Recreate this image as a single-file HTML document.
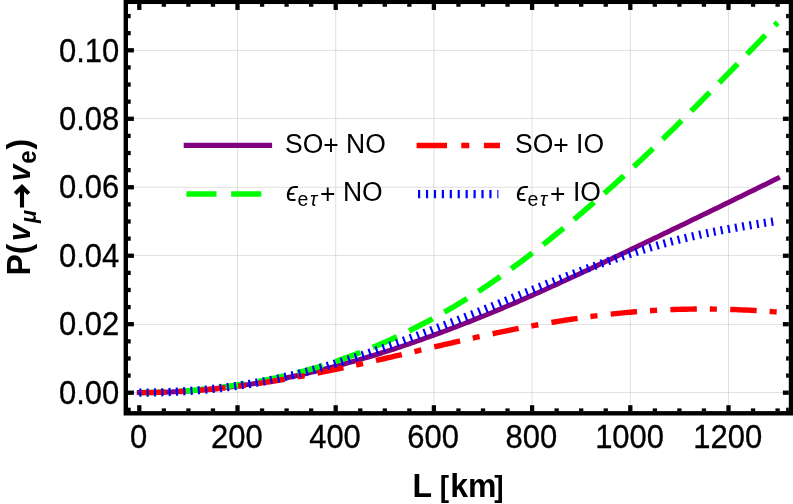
<!DOCTYPE html>
<html><head><meta charset="utf-8"><title>plot</title>
<style>
html,body{margin:0;padding:0;background:#fff;}
svg{display:block;will-change:transform;}
text{font-family:"Liberation Sans",sans-serif;fill:#000;}
</style></head><body>
<svg width="793" height="504" viewBox="0 0 793 504">
<rect x="0" y="0" width="793" height="504" fill="#fff"/>
<g stroke="#cccccc" stroke-width="0.62" fill="none"><line x1="237.50" y1="1.85" x2="237.50" y2="413.3"/><line x1="335.70" y1="1.85" x2="335.70" y2="413.3"/><line x1="433.90" y1="1.85" x2="433.90" y2="413.3"/><line x1="532.10" y1="1.85" x2="532.10" y2="413.3"/><line x1="630.30" y1="1.85" x2="630.30" y2="413.3"/><line x1="728.50" y1="1.85" x2="728.50" y2="413.3"/><line x1="125.8" y1="50.4" x2="791.0" y2="50.4"/><line x1="125.8" y1="118.5" x2="791.0" y2="118.5"/><line x1="125.8" y1="187.3" x2="791.0" y2="187.3"/><line x1="125.8" y1="255.5" x2="791.0" y2="255.5"/><line x1="125.8" y1="324.4" x2="791.0" y2="324.4"/><line x1="125.8" y1="392.5" x2="791.0" y2="392.5"/></g>
<path d="M139.30 392.60 L141.76 392.60 L144.21 392.58 L146.67 392.57 L149.12 392.54 L151.58 392.50 L154.03 392.46 L156.49 392.41 L158.94 392.35 L161.40 392.29 L163.85 392.21 L166.31 392.13 L168.76 392.04 L171.22 391.94 L173.67 391.83 L176.12 391.71 L178.58 391.59 L181.03 391.45 L183.49 391.31 L185.94 391.16 L188.40 391.00 L190.86 390.83 L193.31 390.65 L195.76 390.47 L198.22 390.27 L200.68 390.07 L203.13 389.85 L205.59 389.63 L208.04 389.40 L210.50 389.16 L212.95 388.92 L215.41 388.66 L217.86 388.40 L220.31 388.13 L222.77 387.85 L225.22 387.56 L227.68 387.26 L230.13 386.96 L232.59 386.65 L235.05 386.33 L237.50 386.00 L239.95 385.66 L242.41 385.32 L244.87 384.97 L247.32 384.61 L249.77 384.25 L252.23 383.87 L254.69 383.49 L257.14 383.10 L259.60 382.70 L262.05 382.29 L264.50 381.88 L266.96 381.45 L269.41 381.02 L271.87 380.58 L274.32 380.13 L276.78 379.67 L279.24 379.20 L281.69 378.73 L284.14 378.24 L286.60 377.75 L289.05 377.25 L291.51 376.74 L293.96 376.22 L296.42 375.69 L298.88 375.15 L301.33 374.61 L303.78 374.06 L306.24 373.50 L308.69 372.93 L311.15 372.35 L313.61 371.77 L316.06 371.18 L318.51 370.58 L320.97 369.97 L323.42 369.36 L325.88 368.74 L328.33 368.12 L330.79 367.48 L333.25 366.85 L335.70 366.20 L338.15 365.55 L340.61 364.89 L343.06 364.23 L345.52 363.56 L347.97 362.88 L350.43 362.20 L352.88 361.51 L355.34 360.81 L357.79 360.11 L360.25 359.40 L362.70 358.69 L365.16 357.97 L367.62 357.24 L370.07 356.50 L372.52 355.76 L374.98 355.01 L377.43 354.26 L379.89 353.50 L382.34 352.73 L384.80 351.95 L387.25 351.17 L389.71 350.38 L392.16 349.58 L394.62 348.78 L397.07 347.97 L399.53 347.15 L401.98 346.33 L404.44 345.50 L406.89 344.66 L409.35 343.82 L411.80 342.97 L414.26 342.12 L416.71 341.26 L419.17 340.40 L421.62 339.53 L424.08 338.65 L426.53 337.77 L428.99 336.89 L431.44 336.00 L433.90 335.10 L436.35 334.20 L438.81 333.30 L441.26 332.39 L443.72 331.47 L446.17 330.55 L448.63 329.63 L451.08 328.70 L453.54 327.77 L455.99 326.83 L458.45 325.89 L460.90 324.94 L463.36 323.99 L465.81 323.03 L468.27 322.07 L470.72 321.10 L473.18 320.13 L475.63 319.16 L478.09 318.18 L480.54 317.19 L483.00 316.20 L485.45 315.20 L487.91 314.20 L490.36 313.20 L492.82 312.19 L495.27 311.17 L497.73 310.15 L500.18 309.13 L502.64 308.10 L505.09 307.07 L507.55 306.03 L510.00 304.99 L512.46 303.94 L514.91 302.89 L517.37 301.83 L519.82 300.77 L522.28 299.71 L524.73 298.64 L527.19 297.56 L529.64 296.48 L532.10 295.40 L534.55 294.31 L537.01 293.22 L539.46 292.13 L541.92 291.03 L544.38 289.92 L546.83 288.82 L549.28 287.70 L551.74 286.59 L554.19 285.47 L556.65 284.35 L559.11 283.23 L561.56 282.10 L564.01 280.97 L566.47 279.84 L568.92 278.71 L571.38 277.57 L573.83 276.43 L576.29 275.29 L578.74 274.15 L581.20 273.00 L583.65 271.85 L586.11 270.70 L588.56 269.55 L591.02 268.40 L593.47 267.25 L595.93 266.09 L598.38 264.94 L600.84 263.78 L603.29 262.62 L605.75 261.46 L608.20 260.30 L610.66 259.14 L613.12 257.97 L615.57 256.81 L618.02 255.64 L620.48 254.48 L622.93 253.31 L625.39 252.14 L627.84 250.97 L630.30 249.80 L632.75 248.63 L635.21 247.46 L637.66 246.29 L640.12 245.11 L642.57 243.94 L645.03 242.77 L647.48 241.59 L649.94 240.42 L652.39 239.24 L654.85 238.06 L657.30 236.89 L659.76 235.71 L662.21 234.53 L664.67 233.35 L667.12 232.17 L669.58 230.99 L672.03 229.80 L674.49 228.62 L676.94 227.44 L679.40 226.25 L681.86 225.06 L684.31 223.88 L686.76 222.69 L689.22 221.50 L691.67 220.31 L694.13 219.12 L696.59 217.93 L699.04 216.74 L701.49 215.55 L703.95 214.36 L706.40 213.16 L708.86 211.97 L711.31 210.77 L713.77 209.58 L716.22 208.38 L718.68 207.19 L721.13 205.99 L723.59 204.79 L726.04 203.60 L728.50 202.40 L730.95 201.20 L733.41 200.00 L735.87 198.80 L738.32 197.61 L740.77 196.41 L743.23 195.21 L745.68 194.01 L748.14 192.81 L750.60 191.61 L753.05 190.41 L755.50 189.21 L757.96 188.01 L760.41 186.80 L762.87 185.60 L765.32 184.40 L767.78 183.20 L770.23 182.00 L772.69 180.80 L775.14 179.60 L777.60 178.40" fill="none" stroke="#800080" stroke-width="5.0" stroke-linejoin="round" stroke-linecap="square"/>
<path d="M139.30 392.60 L141.76 392.60 L144.21 392.58 L146.67 392.56 L149.12 392.52 L151.58 392.48 L154.03 392.43 L156.49 392.37 L158.94 392.30 L161.40 392.22 L163.85 392.13 L166.31 392.03 L168.76 391.92 L171.22 391.80 L173.67 391.67 L176.12 391.53 L178.58 391.39 L181.03 391.23 L183.49 391.06 L185.94 390.89 L188.40 390.70 L190.86 390.50 L193.31 390.30 L195.76 390.09 L198.22 389.86 L200.68 389.63 L203.13 389.39 L205.59 389.13 L208.04 388.87 L210.50 388.60 L212.95 388.32 L215.41 388.03 L217.86 387.73 L220.31 387.42 L222.77 387.10 L225.22 386.78 L227.68 386.44 L230.13 386.09 L232.59 385.74 L235.05 385.37 L237.50 385.00 L239.95 384.62 L242.41 384.22 L244.87 383.82 L247.32 383.41 L249.77 382.99 L252.23 382.56 L254.69 382.12 L257.14 381.67 L259.60 381.21 L262.05 380.74 L264.50 380.26 L266.96 379.77 L269.41 379.27 L271.87 378.75 L274.32 378.23 L276.78 377.70 L279.24 377.15 L281.69 376.60 L284.14 376.03 L286.60 375.45 L289.05 374.86 L291.51 374.26 L293.96 373.65 L296.42 373.02 L298.88 372.39 L301.33 371.74 L303.78 371.08 L306.24 370.41 L308.69 369.73 L311.15 369.03 L313.61 368.32 L316.06 367.60 L318.51 366.87 L320.97 366.13 L323.42 365.37 L325.88 364.60 L328.33 363.82 L330.79 363.03 L333.25 362.22 L335.70 361.40 L338.15 360.57 L340.61 359.72 L343.06 358.86 L345.52 357.99 L347.97 357.11 L350.43 356.21 L352.88 355.30 L355.34 354.38 L357.79 353.44 L360.25 352.50 L362.70 351.53 L365.16 350.56 L367.62 349.57 L370.07 348.57 L372.52 347.56 L374.98 346.53 L377.43 345.49 L379.89 344.44 L382.34 343.38 L384.80 342.30 L387.25 341.21 L389.71 340.11 L392.16 338.99 L394.62 337.86 L397.07 336.72 L399.53 335.56 L401.98 334.39 L404.44 333.21 L406.89 332.01 L409.35 330.81 L411.80 329.58 L414.26 328.35 L416.71 327.10 L419.17 325.84 L421.62 324.57 L424.08 323.28 L426.53 321.98 L428.99 320.67 L431.44 319.34 L433.90 318.00 L436.35 316.65 L438.81 315.28 L441.26 313.90 L443.72 312.51 L446.17 311.10 L448.63 309.68 L451.08 308.25 L453.54 306.80 L455.99 305.34 L458.45 303.87 L460.90 302.38 L463.36 300.87 L465.81 299.36 L468.27 297.83 L470.72 296.28 L473.18 294.73 L475.63 293.15 L478.09 291.57 L480.54 289.97 L483.00 288.35 L485.45 286.72 L487.91 285.08 L490.36 283.42 L492.82 281.75 L495.27 280.06 L497.73 278.36 L500.18 276.65 L502.64 274.92 L505.09 273.18 L507.55 271.43 L510.00 269.66 L512.46 267.88 L514.91 266.09 L517.37 264.29 L519.82 262.47 L522.28 260.64 L524.73 258.80 L527.19 256.94 L529.64 255.08 L532.10 253.20 L534.55 251.31 L537.01 249.41 L539.46 247.50 L541.92 245.57 L544.38 243.64 L546.83 241.69 L549.28 239.74 L551.74 237.77 L554.19 235.79 L556.65 233.80 L559.11 231.81 L561.56 229.80 L564.01 227.78 L566.47 225.75 L568.92 223.72 L571.38 221.67 L573.83 219.62 L576.29 217.55 L578.74 215.48 L581.20 213.40 L583.65 211.31 L586.11 209.21 L588.56 207.10 L591.02 204.99 L593.47 202.86 L595.93 200.73 L598.38 198.59 L600.84 196.44 L603.29 194.28 L605.75 192.11 L608.20 189.93 L610.66 187.74 L613.12 185.55 L615.57 183.34 L618.02 181.12 L620.48 178.90 L622.93 176.66 L625.39 174.42 L627.84 172.16 L630.30 169.90 L632.75 167.63 L635.21 165.34 L637.66 163.05 L640.12 160.75 L642.57 158.43 L645.03 156.11 L647.48 153.78 L649.94 151.45 L652.39 149.10 L654.85 146.75 L657.30 144.38 L659.76 142.01 L662.21 139.64 L664.67 137.25 L667.12 134.86 L669.58 132.46 L672.03 130.06 L674.49 127.64 L676.94 125.22 L679.40 122.80 L681.86 120.37 L684.31 117.93 L686.76 115.49 L689.22 113.04 L691.67 110.59 L694.13 108.13 L696.59 105.67 L699.04 103.20 L701.49 100.73 L703.95 98.25 L706.40 95.77 L708.86 93.28 L711.31 90.79 L713.77 88.29 L716.22 85.80 L718.68 83.29 L721.13 80.79 L723.59 78.28 L726.04 75.77 L728.50 73.25 L730.95 70.73 L733.41 68.21 L735.87 65.69 L738.32 63.16 L740.77 60.63 L743.23 58.10 L745.68 55.56 L748.14 53.03 L750.60 50.49 L753.05 47.95 L755.50 45.41 L757.96 42.87 L760.41 40.32 L762.87 37.78 L765.32 35.24 L767.78 32.69 L770.23 30.14 L772.69 27.60 L775.14 25.05 L777.60 22.50" fill="none" stroke="#00ff00" stroke-width="5.6" stroke-linejoin="round" stroke-linecap="butt" stroke-dasharray="26.45 13.45"/>
<path d="M139.30 392.60 L141.76 392.60 L144.21 392.58 L146.67 392.56 L149.12 392.54 L151.58 392.50 L154.03 392.46 L156.49 392.40 L158.94 392.34 L161.40 392.27 L163.85 392.20 L166.31 392.11 L168.76 392.02 L171.22 391.92 L173.67 391.81 L176.12 391.70 L178.58 391.57 L181.03 391.44 L183.49 391.30 L185.94 391.16 L188.40 391.00 L190.86 390.84 L193.31 390.67 L195.76 390.49 L198.22 390.30 L200.68 390.10 L203.13 389.90 L205.59 389.69 L208.04 389.48 L210.50 389.25 L212.95 389.02 L215.41 388.78 L217.86 388.53 L220.31 388.28 L222.77 388.02 L225.22 387.75 L227.68 387.47 L230.13 387.19 L232.59 386.90 L235.05 386.60 L237.50 386.30 L239.95 385.99 L242.41 385.67 L244.87 385.35 L247.32 385.02 L249.77 384.68 L252.23 384.34 L254.69 383.99 L257.14 383.63 L259.60 383.27 L262.05 382.90 L264.50 382.53 L266.96 382.15 L269.41 381.76 L271.87 381.37 L274.32 380.97 L276.78 380.57 L279.24 380.16 L281.69 379.75 L284.14 379.33 L286.60 378.90 L289.05 378.47 L291.51 378.03 L293.96 377.59 L296.42 377.15 L298.88 376.70 L301.33 376.24 L303.78 375.78 L306.24 375.31 L308.69 374.84 L311.15 374.37 L313.61 373.89 L316.06 373.41 L318.51 372.92 L320.97 372.43 L323.42 371.93 L325.88 371.44 L328.33 370.93 L330.79 370.43 L333.25 369.91 L335.70 369.40 L338.15 368.88 L340.61 368.36 L343.06 367.84 L345.52 367.31 L347.97 366.78 L350.43 366.24 L352.88 365.71 L355.34 365.17 L357.79 364.62 L360.25 364.08 L362.70 363.53 L365.16 362.98 L367.62 362.43 L370.07 361.87 L372.52 361.32 L374.98 360.76 L377.43 360.19 L379.89 359.63 L382.34 359.07 L384.80 358.50 L387.25 357.93 L389.71 357.36 L392.16 356.79 L394.62 356.22 L397.07 355.65 L399.53 355.07 L401.98 354.50 L404.44 353.92 L406.89 353.34 L409.35 352.77 L411.80 352.19 L414.26 351.61 L416.71 351.03 L419.17 350.46 L421.62 349.88 L424.08 349.30 L426.53 348.73 L428.99 348.15 L431.44 347.57 L433.90 347.00 L436.35 346.43 L438.81 345.85 L441.26 345.28 L443.72 344.71 L446.17 344.14 L448.63 343.58 L451.08 343.01 L453.54 342.45 L455.99 341.89 L458.45 341.33 L460.90 340.77 L463.36 340.21 L465.81 339.66 L468.27 339.11 L470.72 338.56 L473.18 338.01 L475.63 337.47 L478.09 336.92 L480.54 336.39 L483.00 335.85 L485.45 335.32 L487.91 334.79 L490.36 334.26 L492.82 333.74 L495.27 333.22 L497.73 332.70 L500.18 332.19 L502.64 331.68 L505.09 331.18 L507.55 330.68 L510.00 330.18 L512.46 329.69 L514.91 329.20 L517.37 328.71 L519.82 328.23 L522.28 327.76 L524.73 327.29 L527.19 326.82 L529.64 326.36 L532.10 325.90 L534.55 325.45 L537.01 325.00 L539.46 324.56 L541.92 324.12 L544.38 323.69 L546.83 323.26 L549.28 322.84 L551.74 322.42 L554.19 322.01 L556.65 321.60 L559.11 321.20 L561.56 320.81 L564.01 320.42 L566.47 320.03 L568.92 319.66 L571.38 319.28 L573.83 318.92 L576.29 318.55 L578.74 318.20 L581.20 317.85 L583.65 317.51 L586.11 317.17 L588.56 316.84 L591.02 316.51 L593.47 316.19 L595.93 315.88 L598.38 315.58 L600.84 315.28 L603.29 314.98 L605.75 314.70 L608.20 314.42 L610.66 314.14 L613.12 313.88 L615.57 313.62 L618.02 313.36 L620.48 313.12 L622.93 312.88 L625.39 312.64 L627.84 312.42 L630.30 312.20 L632.75 311.99 L635.21 311.78 L637.66 311.59 L640.12 311.40 L642.57 311.21 L645.03 311.04 L647.48 310.87 L649.94 310.71 L652.39 310.56 L654.85 310.41 L657.30 310.27 L659.76 310.14 L662.21 310.01 L664.67 309.90 L667.12 309.79 L669.58 309.68 L672.03 309.59 L674.49 309.50 L676.94 309.42 L679.40 309.35 L681.86 309.28 L684.31 309.23 L686.76 309.18 L689.22 309.13 L691.67 309.10 L694.13 309.07 L696.59 309.05 L699.04 309.04 L701.49 309.03 L703.95 309.03 L706.40 309.04 L708.86 309.05 L711.31 309.07 L713.77 309.10 L716.22 309.13 L718.68 309.17 L721.13 309.22 L723.59 309.27 L726.04 309.33 L728.50 309.40 L730.95 309.47 L733.41 309.55 L735.87 309.64 L738.32 309.73 L740.77 309.83 L743.23 309.93 L745.68 310.04 L748.14 310.16 L750.60 310.28 L753.05 310.41 L755.50 310.54 L757.96 310.68 L760.41 310.83 L762.87 310.98 L765.32 311.14 L767.78 311.30 L770.23 311.47 L772.69 311.64 L775.14 311.82 L777.60 312.00" fill="none" stroke="#ff0000" stroke-width="5.4" stroke-linejoin="round" stroke-linecap="butt" stroke-dasharray="26.5 12.95 7.1 13.3"/>
<path d="M139.30 392.60 L141.76 392.60 L144.21 392.59 L146.67 392.57 L149.12 392.54 L151.58 392.51 L154.03 392.46 L156.49 392.41 L158.94 392.35 L161.40 392.29 L163.85 392.21 L166.31 392.13 L168.76 392.04 L171.22 391.94 L173.67 391.83 L176.12 391.72 L178.58 391.59 L181.03 391.46 L183.49 391.31 L185.94 391.16 L188.40 391.00 L190.86 390.83 L193.31 390.65 L195.76 390.46 L198.22 390.26 L200.68 390.06 L203.13 389.84 L205.59 389.61 L208.04 389.38 L210.50 389.13 L212.95 388.88 L215.41 388.62 L217.86 388.34 L220.31 388.06 L222.77 387.77 L225.22 387.46 L227.68 387.15 L230.13 386.83 L232.59 386.50 L235.05 386.15 L237.50 385.80 L239.95 385.44 L242.41 385.06 L244.87 384.68 L247.32 384.29 L249.77 383.89 L252.23 383.47 L254.69 383.05 L257.14 382.61 L259.60 382.17 L262.05 381.72 L264.50 381.25 L266.96 380.78 L269.41 380.29 L271.87 379.79 L274.32 379.29 L276.78 378.77 L279.24 378.24 L281.69 377.71 L284.14 377.16 L286.60 376.60 L289.05 376.03 L291.51 375.45 L293.96 374.86 L296.42 374.26 L298.88 373.65 L301.33 373.04 L303.78 372.41 L306.24 371.77 L308.69 371.13 L311.15 370.47 L313.61 369.81 L316.06 369.14 L318.51 368.46 L320.97 367.77 L323.42 367.08 L325.88 366.38 L328.33 365.67 L330.79 364.95 L333.25 364.23 L335.70 363.50 L338.15 362.76 L340.61 362.02 L343.06 361.27 L345.52 360.52 L347.97 359.76 L350.43 358.99 L352.88 358.22 L355.34 357.43 L357.79 356.65 L360.25 355.85 L362.70 355.05 L365.16 354.25 L367.62 353.43 L370.07 352.61 L372.52 351.79 L374.98 350.95 L377.43 350.11 L379.89 349.26 L382.34 348.41 L384.80 347.55 L387.25 346.68 L389.71 345.81 L392.16 344.93 L394.62 344.04 L397.07 343.15 L399.53 342.26 L401.98 341.35 L404.44 340.45 L406.89 339.54 L409.35 338.62 L411.80 337.70 L414.26 336.78 L416.71 335.85 L419.17 334.92 L421.62 333.99 L424.08 333.06 L426.53 332.12 L428.99 331.18 L431.44 330.24 L433.90 329.30 L436.35 328.36 L438.81 327.41 L441.26 326.47 L443.72 325.52 L446.17 324.57 L448.63 323.63 L451.08 322.67 L453.54 321.72 L455.99 320.77 L458.45 319.81 L460.90 318.85 L463.36 317.89 L465.81 316.92 L468.27 315.96 L470.72 314.99 L473.18 314.02 L475.63 313.04 L478.09 312.06 L480.54 311.08 L483.00 310.10 L485.45 309.11 L487.91 308.12 L490.36 307.13 L492.82 306.13 L495.27 305.14 L497.73 304.14 L500.18 303.13 L502.64 302.13 L505.09 301.13 L507.55 300.12 L510.00 299.12 L512.46 298.11 L514.91 297.11 L517.37 296.10 L519.82 295.10 L522.28 294.10 L524.73 293.09 L527.19 292.09 L529.64 291.10 L532.10 290.10 L534.55 289.11 L537.01 288.11 L539.46 287.13 L541.92 286.14 L544.38 285.16 L546.83 284.18 L549.28 283.20 L551.74 282.23 L554.19 281.26 L556.65 280.30 L559.11 279.34 L561.56 278.38 L564.01 277.43 L566.47 276.48 L568.92 275.54 L571.38 274.60 L573.83 273.67 L576.29 272.74 L578.74 271.82 L581.20 270.90 L583.65 269.99 L586.11 269.08 L588.56 268.18 L591.02 267.29 L593.47 266.40 L595.93 265.52 L598.38 264.64 L600.84 263.77 L603.29 262.91 L605.75 262.05 L608.20 261.20 L610.66 260.35 L613.12 259.51 L615.57 258.68 L618.02 257.85 L620.48 257.03 L622.93 256.21 L625.39 255.40 L627.84 254.60 L630.30 253.80 L632.75 253.01 L635.21 252.22 L637.66 251.45 L640.12 250.68 L642.57 249.91 L645.03 249.16 L647.48 248.41 L649.94 247.67 L652.39 246.94 L654.85 246.21 L657.30 245.50 L659.76 244.79 L662.21 244.10 L664.67 243.41 L667.12 242.73 L669.58 242.06 L672.03 241.41 L674.49 240.76 L676.94 240.13 L679.40 239.50 L681.86 238.89 L684.31 238.28 L686.76 237.69 L689.22 237.11 L691.67 236.54 L694.13 235.97 L696.59 235.42 L699.04 234.88 L701.49 234.35 L703.95 233.82 L706.40 233.30 L708.86 232.80 L711.31 232.30 L713.77 231.80 L716.22 231.32 L718.68 230.84 L721.13 230.37 L723.59 229.91 L726.04 229.45 L728.50 229.00 L730.95 228.56 L733.41 228.12 L735.87 227.68 L738.32 227.25 L740.77 226.83 L743.23 226.41 L745.68 226.00 L748.14 225.59 L750.60 225.18 L753.05 224.78 L755.50 224.38 L757.96 223.98 L760.41 223.59 L762.87 223.20 L765.32 222.81 L767.78 222.43 L770.23 222.04 L772.69 221.66 L775.14 221.28 L777.60 220.90" fill="none" stroke="#0000ff" stroke-width="8.2" stroke-linejoin="round" stroke-linecap="butt" stroke-dasharray="2.1 5.215"/>
<g stroke="#000" stroke-width="4.3" fill="none"><line x1="139.30" y1="411.1" x2="139.30" y2="405.20"/><line x1="139.30" y1="4.050000000000001" x2="139.30" y2="9.95"/><line x1="163.85" y1="411.1" x2="163.85" y2="408.40"/><line x1="163.85" y1="4.050000000000001" x2="163.85" y2="6.75"/><line x1="188.40" y1="411.1" x2="188.40" y2="408.40"/><line x1="188.40" y1="4.050000000000001" x2="188.40" y2="6.75"/><line x1="212.95" y1="411.1" x2="212.95" y2="408.40"/><line x1="212.95" y1="4.050000000000001" x2="212.95" y2="6.75"/><line x1="237.50" y1="411.1" x2="237.50" y2="405.20"/><line x1="237.50" y1="4.050000000000001" x2="237.50" y2="9.95"/><line x1="262.05" y1="411.1" x2="262.05" y2="408.40"/><line x1="262.05" y1="4.050000000000001" x2="262.05" y2="6.75"/><line x1="286.60" y1="411.1" x2="286.60" y2="408.40"/><line x1="286.60" y1="4.050000000000001" x2="286.60" y2="6.75"/><line x1="311.15" y1="411.1" x2="311.15" y2="408.40"/><line x1="311.15" y1="4.050000000000001" x2="311.15" y2="6.75"/><line x1="335.70" y1="411.1" x2="335.70" y2="405.20"/><line x1="335.70" y1="4.050000000000001" x2="335.70" y2="9.95"/><line x1="360.25" y1="411.1" x2="360.25" y2="408.40"/><line x1="360.25" y1="4.050000000000001" x2="360.25" y2="6.75"/><line x1="384.80" y1="411.1" x2="384.80" y2="408.40"/><line x1="384.80" y1="4.050000000000001" x2="384.80" y2="6.75"/><line x1="409.35" y1="411.1" x2="409.35" y2="408.40"/><line x1="409.35" y1="4.050000000000001" x2="409.35" y2="6.75"/><line x1="433.90" y1="411.1" x2="433.90" y2="405.20"/><line x1="433.90" y1="4.050000000000001" x2="433.90" y2="9.95"/><line x1="458.45" y1="411.1" x2="458.45" y2="408.40"/><line x1="458.45" y1="4.050000000000001" x2="458.45" y2="6.75"/><line x1="483.00" y1="411.1" x2="483.00" y2="408.40"/><line x1="483.00" y1="4.050000000000001" x2="483.00" y2="6.75"/><line x1="507.55" y1="411.1" x2="507.55" y2="408.40"/><line x1="507.55" y1="4.050000000000001" x2="507.55" y2="6.75"/><line x1="532.10" y1="411.1" x2="532.10" y2="405.20"/><line x1="532.10" y1="4.050000000000001" x2="532.10" y2="9.95"/><line x1="556.65" y1="411.1" x2="556.65" y2="408.40"/><line x1="556.65" y1="4.050000000000001" x2="556.65" y2="6.75"/><line x1="581.20" y1="411.1" x2="581.20" y2="408.40"/><line x1="581.20" y1="4.050000000000001" x2="581.20" y2="6.75"/><line x1="605.75" y1="411.1" x2="605.75" y2="408.40"/><line x1="605.75" y1="4.050000000000001" x2="605.75" y2="6.75"/><line x1="630.30" y1="411.1" x2="630.30" y2="405.20"/><line x1="630.30" y1="4.050000000000001" x2="630.30" y2="9.95"/><line x1="654.85" y1="411.1" x2="654.85" y2="408.40"/><line x1="654.85" y1="4.050000000000001" x2="654.85" y2="6.75"/><line x1="679.40" y1="411.1" x2="679.40" y2="408.40"/><line x1="679.40" y1="4.050000000000001" x2="679.40" y2="6.75"/><line x1="703.95" y1="411.1" x2="703.95" y2="408.40"/><line x1="703.95" y1="4.050000000000001" x2="703.95" y2="6.75"/><line x1="728.50" y1="411.1" x2="728.50" y2="405.20"/><line x1="728.50" y1="4.050000000000001" x2="728.50" y2="9.95"/><line x1="753.05" y1="411.1" x2="753.05" y2="408.40"/><line x1="753.05" y1="4.050000000000001" x2="753.05" y2="6.75"/><line x1="777.60" y1="411.1" x2="777.60" y2="408.40"/><line x1="777.60" y1="4.050000000000001" x2="777.60" y2="6.75"/><line x1="128.0" y1="409.82" x2="130.70" y2="409.82"/><line x1="788.8" y1="409.82" x2="786.10" y2="409.82"/><line x1="128.0" y1="392.70" x2="133.90" y2="392.70"/><line x1="788.8" y1="392.70" x2="782.90" y2="392.70"/><line x1="128.0" y1="375.58" x2="130.70" y2="375.58"/><line x1="788.8" y1="375.58" x2="786.10" y2="375.58"/><line x1="128.0" y1="358.46" x2="130.70" y2="358.46"/><line x1="788.8" y1="358.46" x2="786.10" y2="358.46"/><line x1="128.0" y1="341.34" x2="130.70" y2="341.34"/><line x1="788.8" y1="341.34" x2="786.10" y2="341.34"/><line x1="128.0" y1="324.22" x2="133.90" y2="324.22"/><line x1="788.8" y1="324.22" x2="782.90" y2="324.22"/><line x1="128.0" y1="307.10" x2="130.70" y2="307.10"/><line x1="788.8" y1="307.10" x2="786.10" y2="307.10"/><line x1="128.0" y1="289.98" x2="130.70" y2="289.98"/><line x1="788.8" y1="289.98" x2="786.10" y2="289.98"/><line x1="128.0" y1="272.86" x2="130.70" y2="272.86"/><line x1="788.8" y1="272.86" x2="786.10" y2="272.86"/><line x1="128.0" y1="255.74" x2="133.90" y2="255.74"/><line x1="788.8" y1="255.74" x2="782.90" y2="255.74"/><line x1="128.0" y1="238.62" x2="130.70" y2="238.62"/><line x1="788.8" y1="238.62" x2="786.10" y2="238.62"/><line x1="128.0" y1="221.50" x2="130.70" y2="221.50"/><line x1="788.8" y1="221.50" x2="786.10" y2="221.50"/><line x1="128.0" y1="204.38" x2="130.70" y2="204.38"/><line x1="788.8" y1="204.38" x2="786.10" y2="204.38"/><line x1="128.0" y1="187.26" x2="133.90" y2="187.26"/><line x1="788.8" y1="187.26" x2="782.90" y2="187.26"/><line x1="128.0" y1="170.14" x2="130.70" y2="170.14"/><line x1="788.8" y1="170.14" x2="786.10" y2="170.14"/><line x1="128.0" y1="153.02" x2="130.70" y2="153.02"/><line x1="788.8" y1="153.02" x2="786.10" y2="153.02"/><line x1="128.0" y1="135.90" x2="130.70" y2="135.90"/><line x1="788.8" y1="135.90" x2="786.10" y2="135.90"/><line x1="128.0" y1="118.78" x2="133.90" y2="118.78"/><line x1="788.8" y1="118.78" x2="782.90" y2="118.78"/><line x1="128.0" y1="101.66" x2="130.70" y2="101.66"/><line x1="788.8" y1="101.66" x2="786.10" y2="101.66"/><line x1="128.0" y1="84.54" x2="130.70" y2="84.54"/><line x1="788.8" y1="84.54" x2="786.10" y2="84.54"/><line x1="128.0" y1="67.42" x2="130.70" y2="67.42"/><line x1="788.8" y1="67.42" x2="786.10" y2="67.42"/><line x1="128.0" y1="50.30" x2="133.90" y2="50.30"/><line x1="788.8" y1="50.30" x2="782.90" y2="50.30"/><line x1="128.0" y1="33.18" x2="130.70" y2="33.18"/><line x1="788.8" y1="33.18" x2="786.10" y2="33.18"/><line x1="128.0" y1="16.06" x2="130.70" y2="16.06"/><line x1="788.8" y1="16.06" x2="786.10" y2="16.06"/></g>
<rect x="125.8" y="1.85" width="665.20" height="411.45" fill="none" stroke="#000" stroke-width="4.4"/>
<text transform="translate(138.60,448.3) scale(1,1.065)" font-size="31" text-anchor="middle" stroke="#000" stroke-width="0.3">0</text>
<text transform="translate(236.80,448.3) scale(1,1.065)" font-size="31" text-anchor="middle" stroke="#000" stroke-width="0.3">200</text>
<text transform="translate(335.00,448.3) scale(1,1.065)" font-size="31" text-anchor="middle" stroke="#000" stroke-width="0.3">400</text>
<text transform="translate(433.20,448.3) scale(1,1.065)" font-size="31" text-anchor="middle" stroke="#000" stroke-width="0.3">600</text>
<text transform="translate(531.40,448.3) scale(1,1.065)" font-size="31" text-anchor="middle" stroke="#000" stroke-width="0.3">800</text>
<text transform="translate(629.60,448.3) scale(1,1.065)" font-size="31" text-anchor="middle" stroke="#000" stroke-width="0.3">1000</text>
<text transform="translate(727.80,448.3) scale(1,1.065)" font-size="31" text-anchor="middle" stroke="#000" stroke-width="0.3">1200</text>
<text transform="translate(119.3,403.90) scale(1,1.065)" font-size="31" text-anchor="end" stroke="#000" stroke-width="0.3">0.00</text>
<text transform="translate(119.3,335.42) scale(1,1.065)" font-size="31" text-anchor="end" stroke="#000" stroke-width="0.3">0.02</text>
<text transform="translate(119.3,266.94) scale(1,1.065)" font-size="31" text-anchor="end" stroke="#000" stroke-width="0.3">0.04</text>
<text transform="translate(119.3,198.46) scale(1,1.065)" font-size="31" text-anchor="end" stroke="#000" stroke-width="0.3">0.06</text>
<text transform="translate(119.3,129.98) scale(1,1.065)" font-size="31" text-anchor="end" stroke="#000" stroke-width="0.3">0.08</text>
<text transform="translate(119.3,61.50) scale(1,1.065)" font-size="31" text-anchor="end" stroke="#000" stroke-width="0.3">0.10</text>
<text y="497" font-size="32" font-weight="bold" transform="matrix(1 0 0 1.045 0 -22.365)"><tspan x="412.4">L</tspan><tspan x="439.8" font-size="28">[</tspan><tspan x="450.2">km</tspan><tspan x="494.3" font-size="28">]</tspan></text>
<g transform="translate(30.2,273.3) rotate(-90) scale(1,1.045)"><text y="0" font-size="32" font-weight="bold"><tspan x="-2.2">P</tspan><tspan x="19">(</tspan><tspan x="32.1" font-style="italic" font-size="30.5">v</tspan><tspan x="50.3" y="5.4" font-size="21.5" font-style="italic">μ</tspan><tspan x="91.9" y="0" font-style="italic" font-size="30.5">v</tspan><tspan x="109.6" y="5.4" font-size="24">e</tspan><tspan x="123.9" y="0" font-size="32">)</tspan></text></g>
<path d="M22 207.4V186.8M15.2 193.6L22 186.8L28.8 193.6" fill="none" stroke="#000" stroke-width="4.1" stroke-linejoin="miter"/>
<line x1="183.7" y1="145.4" x2="272.1" y2="145.4" stroke="#800080" stroke-width="5.2"/>
<path d="M186.4 194.1H216.5M231.2 194.1H261.3" stroke="#00ff00" stroke-width="5.5" fill="none"/>
<path d="M416.6 145.4H447M461.3 145.4H469.3M483.9 145.4H500" stroke="#ff0000" stroke-width="5.5" fill="none"/>
<line x1="418" y1="194.1" x2="498.4" y2="194.1" stroke="#0000ff" stroke-width="8.2" stroke-dasharray="2.2 5.73"/>
<text x="285" y="152.6" font-size="26.5" transform="matrix(1 0 0 1.065 0 -9.919)">SO<tspan dy="1.5">+</tspan><tspan dy="-1.5"> NO</tspan></text>
<text x="515" y="152.6" font-size="26.5" transform="matrix(1 0 0 1.065 0 -9.919)">SO<tspan dy="1.5">+</tspan><tspan dy="-1.5"> IO</tspan></text>
<text y="201.2" font-size="26.5" transform="matrix(1 0 0 1.065 0 -13.078)"><tspan x="285.95" font-style="italic">ϵ</tspan><tspan x="297.55" y="205.5" font-size="19.5">e</tspan><tspan x="309.95" y="205.5" font-size="19.5" font-style="italic">τ</tspan><tspan x="320.05" y="202.7">+</tspan><tspan x="342.95" y="201.2">NO</tspan></text>
<text y="201.2" font-size="26.5" transform="matrix(1 0 0 1.065 0 -13.078)"><tspan x="515.95" font-style="italic">ϵ</tspan><tspan x="527.55" y="205.5" font-size="19.5">e</tspan><tspan x="539.95" y="205.5" font-size="19.5" font-style="italic">τ</tspan><tspan x="550.05" y="202.7">+</tspan><tspan x="572.95" y="201.2">IO</tspan></text>
</svg>
</body></html>
